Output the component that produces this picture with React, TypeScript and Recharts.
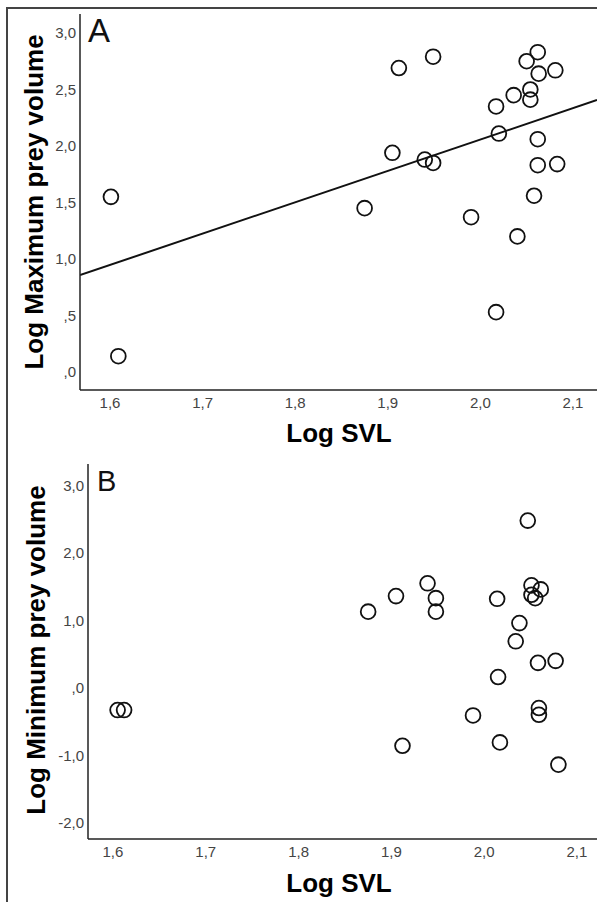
import React from 'react';
import { ScatterChart, Scatter, XAxis, YAxis, ReferenceLine } from 'recharts';

// Panel A: log SVL vs log maximum prey volume
const svlA = [1.601, 1.609, 1.912, 1.949, 2.05, 2.062, 2.063, 2.081, 2.036, 2.054, 2.054, 2.017, 2.02, 1.905, 1.94, 1.949, 2.062, 2.062, 2.083, 2.058, 1.875, 1.99, 2.04, 2.017];
const maxPrey = [1.55, 0.14, 2.69, 2.79, 2.75, 2.83, 2.64, 2.67, 2.45, 2.5, 2.41, 2.35, 2.11, 1.94, 1.88, 1.85, 2.06, 1.83, 1.84, 1.56, 1.45, 1.37, 1.2, 0.53];

// Panel B: log SVL vs log minimum prey volume
const svlB = [1.605, 1.612, 2.047, 1.939, 1.905, 1.948, 1.875, 1.948, 2.014, 2.051, 2.061, 2.051, 2.055, 2.038, 2.034, 2.058, 2.077, 2.015, 2.059, 2.059, 1.988, 1.912, 2.017, 2.08];
const minPrey = [-0.33, -0.33, 2.48, 1.55, 1.36, 1.33, 1.13, 1.13, 1.32, 1.52, 1.46, 1.38, 1.33, 0.96, 0.69, 0.37, 0.4, 0.16, -0.3, -0.4, -0.41, -0.86, -0.81, -1.14];

const xTicks = [1.6, 1.7, 1.8, 1.9, 2.0, 2.1];
const yTicksA = [0, 0.5, 1, 1.5, 2, 2.5, 3];
const yTicksB = [-2, -1, 0, 1, 2, 3];

// fit line for panel A
const fitSlope = 2.774;
const fitIntercept = -3.491;

const xDomainA: [number, number] = [1.5676, 2.126];
const yDomainA: [number, number] = [-0.159, 3.168];
const xDomainB: [number, number] = [1.5731, 2.1216];
const yDomainB: [number, number] = [-2.243, 3.32];

const FONT = '"Liberation Sans", Arial, sans-serif';

const fmt = (v: number) =>
  v.toFixed(1).replace('.', ',').replace(/^0,/, ',').replace(/^-0,/, '-,');

const ring = (props: any) => (
  <circle cx={props.cx} cy={props.cy} r={7.4} fill="none" stroke="#111" strokeWidth={1.8} />
);

const tickStyle = { fill: '#444', fontSize: 15, fontFamily: FONT };

export default function App() {
  const dataA = svlA.map((x, i) => ({ x, y: maxPrey[i] }));
  const dataB = svlB.map((x, i) => ({ x, y: minPrey[i] }));
  const fitSeg = xDomainA.map((x) => ({ x, y: fitIntercept + fitSlope * x }));

  return (
    <div style={{ position: 'absolute', left: 0, top: 0, width: 597, height: 902, background: '#fff', fontFamily: FONT }}>
      <div style={{ position: 'absolute', left: 0, top: 0 }}>
        <ScatterChart width={597} height={450} margin={{ top: 14, right: 0, bottom: 30, left: 0 }}>
          <XAxis type="number" dataKey="x" domain={xDomainA} ticks={xTicks} tickFormatter={fmt}
            allowDataOverflow tickLine={false} tickSize={0} tickMargin={7} height={30}
            axisLine={{ stroke: '#222', strokeWidth: 1.5 }} tick={tickStyle} />
          <YAxis type="number" dataKey="y" domain={yDomainA} ticks={yTicksA} tickFormatter={fmt}
            allowDataOverflow tickLine={false} tickSize={0} tickMargin={4} width={80}
            axisLine={{ stroke: '#222', strokeWidth: 1.5 }} tick={tickStyle} />
          <ReferenceLine segment={fitSeg} stroke="#111" strokeWidth={2} ifOverflow="hidden" />
          <Scatter data={dataA} shape={ring} isAnimationActive={false} />
        </ScatterChart>
      </div>
      <div style={{ position: 'absolute', left: 0, top: 450 }}>
        <ScatterChart width={597} height={452} margin={{ top: 14, right: 0, bottom: 33, left: 0 }}>
          <XAxis type="number" dataKey="x" domain={xDomainB} ticks={xTicks} tickFormatter={fmt}
            allowDataOverflow tickLine={false} tickSize={0} tickMargin={7} height={30}
            axisLine={{ stroke: '#222', strokeWidth: 1.5 }} tick={tickStyle} />
          <YAxis type="number" dataKey="y" domain={yDomainB} ticks={yTicksB} tickFormatter={fmt}
            allowDataOverflow tickLine={false} tickSize={0} tickMargin={4} width={88}
            axisLine={{ stroke: '#222', strokeWidth: 1.5 }} tick={tickStyle} />
          <Scatter data={dataB} shape={ring} isAnimationActive={false} />
        </ScatterChart>
      </div>
      <svg width={597} height={902} style={{ position: 'absolute', left: 0, top: 0, pointerEvents: 'none' }}>
        <line x1={7} y1={8} x2={7} y2={902} stroke="#444" strokeWidth={2} />
        <line x1={6} y1={8} x2={597} y2={8} stroke="#444" strokeWidth={2} />
        <text x={88} y={42} fontSize={33} fontFamily={FONT} fill="#111">A</text>
        <text x={97} y={491} fontSize={29} fontFamily={FONT} fill="#111">B</text>
        <text x={339} y={442} fontSize={26} fontWeight="bold" fontFamily={FONT} textAnchor="middle" fill="#000">Log SVL</text>
        <text x={339} y={892} fontSize={26} fontWeight="bold" fontFamily={FONT} textAnchor="middle" fill="#000">Log SVL</text>
        <text transform="translate(43,202) rotate(-90)" fontSize={26} fontWeight="bold" fontFamily={FONT} textAnchor="middle" fill="#000">Log Maximum prey volume</text>
        <text transform="translate(45,650) rotate(-90)" fontSize={26} fontWeight="bold" fontFamily={FONT} textAnchor="middle" fill="#000">Log Minimum prey volume</text>
      </svg>
    </div>
  );
}
